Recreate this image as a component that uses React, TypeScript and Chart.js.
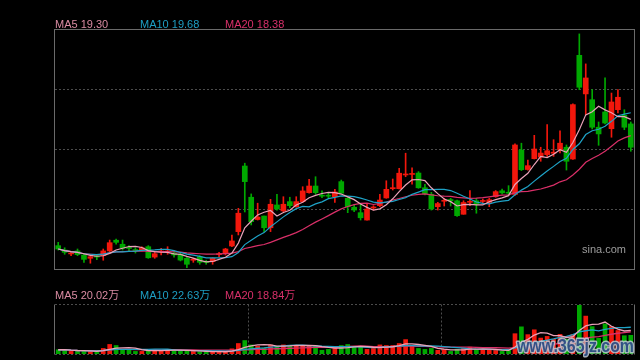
import React, { useEffect, useRef } from 'react';
import { Chart, registerables } from 'chart.js';

Chart.register(...registerables);

// ---- data (price in yuan, volume in 万) ----
const opens = [
  12.10, 11.85, 11.63, 11.80, 11.57, 11.38, 11.51, 11.53, 11.80, 12.41,
  12.18, 11.97, 11.85, 11.84, 12.04, 11.45, 11.74, 11.74, 11.68, 11.61,
  11.38, 11.27, 11.47, 11.17, 11.19, 11.59, 11.64, 12.08, 12.90, 16.64,
  14.86, 13.59, 13.79, 13.12, 14.42, 14.08, 14.61, 14.32, 14.61, 15.12,
  15.50, 14.95, 14.95, 14.89, 15.75, 14.80, 14.29, 13.98, 13.56, 14.25,
  14.38, 14.82, 15.35, 15.35, 16.13, 16.16, 16.24, 15.40, 15.03, 14.32,
  14.63, 14.73, 14.66, 13.89, 14.57, 14.66, 14.62, 14.56, 14.89, 15.23,
  15.11, 15.02, 17.55, 16.44, 17.06, 17.15, 17.29, 17.37, 17.57, 17.71,
  17.04, 22.95, 20.75, 20.42, 18.85, 19.72, 18.77, 19.85, 19.53, 19.04,
];
const highs = [
  12.29, 11.98, 11.76, 11.91, 11.61, 11.53, 11.61, 11.91, 12.42, 12.48,
  12.42, 12.10, 11.98, 12.04, 12.10, 11.76, 11.95, 12.04, 11.80, 11.67,
  11.45, 11.38, 11.53, 11.27, 11.41, 11.72, 11.95, 12.71, 14.23, 16.80,
  15.05, 14.52, 13.79, 14.74, 15.03, 14.89, 14.86, 14.89, 15.46, 15.88,
  16.03, 15.22, 15.12, 15.31, 15.84, 14.83, 14.46, 14.46, 14.46, 14.38,
  15.03, 15.80, 15.90, 16.51, 17.37, 16.54, 16.32, 15.60, 15.14, 14.57,
  14.80, 14.80, 14.70, 14.66, 15.24, 14.80, 14.76, 14.80, 15.24, 15.33,
  15.52, 17.91, 17.94, 16.98, 18.39, 17.71, 19.00, 18.14, 18.65, 17.84,
  20.18, 24.17, 22.46, 21.00, 19.15, 21.66, 20.80, 20.99, 19.85, 19.15,
];
const lows = [
  11.85, 11.61, 11.53, 11.53, 11.15, 11.10, 11.30, 11.27, 11.67, 12.18,
  11.85, 11.80, 11.68, 11.80, 11.38, 11.38, 11.57, 11.61, 11.45, 11.23,
  10.84, 11.15, 11.04, 11.04, 11.04, 11.47, 11.57, 12.04, 12.71, 14.02,
  13.28, 13.56, 12.90, 12.90, 14.13, 14.04, 14.26, 14.29, 14.57, 15.09,
  15.03, 14.83, 14.83, 14.57, 15.09, 13.98, 14.04, 13.56, 13.56, 14.13,
  14.32, 14.80, 15.27, 15.33, 16.03, 15.60, 15.37, 14.99, 14.13, 14.13,
  14.36, 14.36, 13.77, 13.89, 14.38, 13.95, 14.53, 14.32, 14.86, 15.05,
  14.99, 14.96, 16.38, 16.41, 17.04, 16.91, 17.19, 17.19, 17.38, 16.41,
  17.01, 20.99, 19.57, 18.75, 17.82, 19.04, 18.28, 19.66, 18.71, 17.48,
];
const closes = [
  11.91, 11.72, 11.65, 11.59, 11.32, 11.47, 11.45, 11.80, 12.27, 12.29,
  11.95, 11.94, 11.82, 11.98, 11.41, 11.64, 11.77, 11.77, 11.57, 11.28,
  11.04, 11.29, 11.15, 11.14, 11.38, 11.62, 11.91, 12.37, 13.95, 15.75,
  13.47, 13.73, 13.12, 14.46, 14.19, 14.46, 14.38, 14.61, 15.22, 15.50,
  15.12, 14.92, 14.92, 15.16, 15.09, 14.32, 14.13, 13.69, 14.19, 14.28,
  14.70, 15.31, 15.38, 16.23, 16.16, 16.19, 15.40, 15.05, 14.19, 14.50,
  14.66, 14.65, 13.81, 14.56, 14.60, 14.48, 14.65, 14.72, 15.18, 15.11,
  15.09, 17.84, 16.43, 16.66, 17.61, 17.38, 17.51, 17.39, 17.94, 16.91,
  20.14, 21.13, 21.66, 18.85, 18.47, 19.09, 20.29, 20.56, 18.85, 17.71,
];
const volumes = [
  3.6, 3.9, 2.2, 2.2, 2.5, 2.2, 2.5, 4.7, 8.1, 7.2,
  3.6, 3.6, 2.2, 2.2, 3.3, 3.3, 3.3, 3.3, 3.3, 3.1,
  2.5, 2.2, 1.9, 1.9, 1.9, 1.9, 1.9, 4.4, 8.9, 11.4,
  7.7, 6.6, 5.0, 7.7, 6.6, 7.7, 7.2, 7.2, 7.2, 7.2,
  6.6, 3.1, 3.9, 4.7, 7.2, 8.1, 6.1, 5.8, 3.9, 4.7,
  7.7, 7.2, 7.2, 8.9, 12.2, 7.2, 4.7, 3.9, 4.7, 3.1,
  3.9, 2.2, 3.9, 4.7, 5.8, 3.9, 3.1, 3.1, 3.9, 2.2,
  3.1, 17.2, 23.0, 16.4, 20.5, 13.5, 14.9, 12.5, 16.6, 12.5,
  16.6, 41.3, 32.1, 23.2, 13.3, 25.5, 23.2, 19.9, 15.5, 15.8,
];
const days = closes.map((_, i) => String(i + 1));
const priceMin = 10.77;
const priceMax = 24.45;
const volumeMax = 41.5;
const maPeriods = [5, 10, 20];
const priceMaLabels = ['MA5 19.30', 'MA10 19.68', 'MA20 18.38'];
const volumeMaLabels = ['MA5 20.02万', 'MA10 22.63万', 'MA20 18.84万'];

// ---- styles ----
const RED = '#f2170c';
const GREEN = '#00a800';
const MA_COLORS = ['#e9a2b8', '#1ea2c6', '#d92f68'];
const MA_TEXT = ['#d98ba2', '#1e9fc4', '#d9306a'];
const GRID = '#4c4c4c';
const BORDER = '#6a6a6a';
const FONT = "Arial, 'Liberation Sans', 'Noto Sans CJK SC', sans-serif";

function movingAverage(values: number[], n: number): number[] {
  return values.map((_, i) => {
    const w = values.slice(Math.max(0, i - n + 1), i + 1);
    return w.reduce((a, b) => a + b, 0) / w.length;
  });
}

const upDay = closes.map((c, i) => c >= opens[i]);
const barColors = upDay.map((u) => (u ? RED : GREEN));

const priceFrame = {
  id: 'priceFrame',
  beforeDatasetsDraw(chart: any) {
    const { ctx, chartArea: a, scales } = chart;
    ctx.save();
    ctx.lineWidth = 1;
    ctx.strokeStyle = GRID;
    ctx.setLineDash([2, 2]);
    for (let k = 1; k < 4; k++) {
      const py = Math.round(scales.y.getPixelForValue(priceMin + ((priceMax - priceMin) * k) / 4)) + 0.5;
      ctx.beginPath();
      ctx.moveTo(a.left, py);
      ctx.lineTo(a.right, py);
      ctx.stroke();
    }
    ctx.setLineDash([]);
    ctx.strokeStyle = BORDER;
    ctx.strokeRect(Math.round(a.left) - 0.5, Math.round(a.top) + 0.5, Math.round(a.right - a.left) + 1, Math.round(a.bottom - a.top));
    ctx.restore();
  },
  afterDraw(chart: any) {
    const { ctx } = chart;
    ctx.save();
    ctx.font = `11px ${FONT}`;
    ctx.textBaseline = 'alphabetic';
    const xs = [55, 140, 225];
    priceMaLabels.forEach((t, k) => {
      ctx.fillStyle = MA_TEXT[k];
      ctx.fillText(t, xs[k], 28);
    });
    ctx.fillStyle = '#9c9c9c';
    ctx.fillText('sina.com', 582, 253);
    ctx.restore();
  },
};

const volumeFrame = {
  id: 'volumeFrame',
  beforeDatasetsDraw(chart: any) {
    const { ctx, chartArea: a, scales } = chart;
    ctx.save();
    ctx.lineWidth = 1;
    ctx.strokeStyle = GRID;
    ctx.setLineDash([2, 2]);
    const top = Math.round(a.top) - 0.5;
    const bottom = Math.round(a.bottom) + 0.5;
    ctx.beginPath();
    ctx.moveTo(a.left, top);
    ctx.lineTo(a.right + 1, top);
    ctx.moveTo(a.left, bottom);
    ctx.lineTo(a.right + 1, bottom);
    const third = days.length / 3;
    [third, 2 * third].forEach((b) => {
      const px = Math.round((scales.x.getPixelForValue(b - 1) + scales.x.getPixelForValue(b)) / 2) + 0.5;
      ctx.moveTo(px, top);
      ctx.lineTo(px, bottom);
    });
    ctx.stroke();
    ctx.setLineDash([]);
    ctx.strokeStyle = BORDER;
    ctx.beginPath();
    ctx.moveTo(Math.round(a.left) - 0.5, top);
    ctx.lineTo(Math.round(a.left) - 0.5, bottom);
    ctx.moveTo(Math.round(a.right) + 0.5, top);
    ctx.lineTo(Math.round(a.right) + 0.5, bottom);
    ctx.stroke();
    ctx.restore();
  },
  afterDraw(chart: any) {
    const { ctx } = chart;
    ctx.save();
    ctx.font = `11px ${FONT}`;
    const xs = [55, 140, 225];
    volumeMaLabels.forEach((t, k) => {
      ctx.fillStyle = MA_TEXT[k];
      ctx.fillText(t, xs[k], 19);
    });
    // site watermark
    ctx.font = `bold 19px ${FONT}`;
    const mark = 'www.365jz.com';
    const w = ctx.measureText(mark).width;
    ctx.translate(517, 72);
    ctx.scale(117 / w, 1);
    ctx.globalAlpha = 0.85;
    ctx.lineJoin = 'round';
    ctx.lineWidth = 3;
    ctx.strokeStyle = '#c0cad6';
    ctx.strokeText(mark, 0, 0);
    ctx.fillStyle = '#1c3f7c';
    ctx.fillText(mark, 0, 0);
    ctx.restore();
  },
};

export default function App() {
  const priceRef = useRef<HTMLCanvasElement>(null);
  const volumeRef = useRef<HTMLCanvasElement>(null);

  useEffect(() => {
    const common = {
      responsive: false,
      animation: false as const,
      devicePixelRatio: 1,
      events: [] as any[],
      plugins: { legend: { display: false }, tooltip: { enabled: false } },
    };
    const priceChart = new Chart(priceRef.current as HTMLCanvasElement, {
      type: 'bar',
      data: {
        labels: days,
        datasets: [
          ...maPeriods.map((p, k) => ({
            type: 'line' as const,
            data: movingAverage(closes, p),
            borderColor: MA_COLORS[k],
            borderWidth: 1.2,
            pointRadius: 0,
            tension: 0,
            order: 0,
          })),
          {
            type: 'bar' as const,
            data: opens.map((o, i) => [o, closes[i]]),
            backgroundColor: barColors,
            barThickness: 5,
            minBarLength: 1,
            grouped: false,
            order: 1,
          },
          {
            type: 'bar' as const,
            data: lows.map((l, i) => [l, highs[i]]),
            backgroundColor: barColors,
            barThickness: 1,
            grouped: false,
            order: 2,
          },
        ] as any,
      },
      options: {
        ...common,
        layout: { padding: { left: 55, right: 6, top: 29, bottom: 11 } },
        scales: {
          x: { type: 'category', display: false, offset: true },
          y: { display: false, min: priceMin, max: priceMax },
        },
      } as any,
      plugins: [priceFrame],
    });

    const volumeChart = new Chart(volumeRef.current as HTMLCanvasElement, {
      type: 'bar',
      data: {
        labels: days,
        datasets: [
          ...maPeriods.map((p, k) => ({
            type: 'line' as const,
            data: movingAverage(volumes, p),
            borderColor: MA_COLORS[k],
            borderWidth: 1.3,
            pointRadius: 0,
            tension: 0,
            order: 0,
          })),
          {
            type: 'bar' as const,
            data: volumes,
            backgroundColor: barColors,
            barThickness: 4,
            grouped: false,
            order: 1,
          },
        ] as any,
      },
      options: {
        ...common,
        layout: { padding: { left: 55, right: 6, top: 25, bottom: 6 } },
        scales: {
          x: { type: 'category', display: false, offset: true },
          y: { display: false, min: 0, max: volumeMax },
        },
      } as any,
      plugins: [volumeFrame],
    });

    return () => {
      priceChart.destroy();
      volumeChart.destroy();
    };
  }, []);

  return (
    <div style={{ position: 'fixed', left: 0, top: 0, width: 640, height: 360, background: '#000', overflow: 'hidden' }}>
      <canvas ref={priceRef} width={640} height={280} style={{ position: 'absolute', left: 0, top: 0, width: 640, height: 280 }} />
      <canvas ref={volumeRef} width={640} height={80} style={{ position: 'absolute', left: 0, top: 280, width: 640, height: 80 }} />
    </div>
  );
}
